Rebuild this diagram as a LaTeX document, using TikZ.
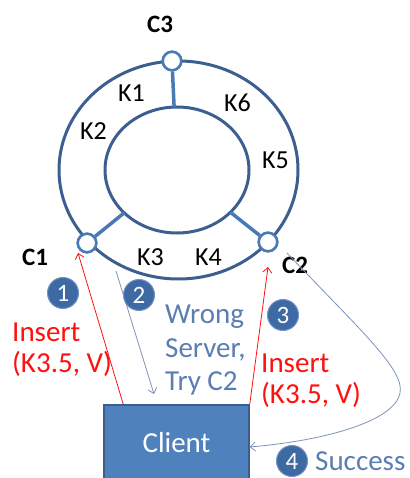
\documentclass[tikz,border=0pt]{standalone}
\usepackage{fontspec}
\setmainfont{Carlito}
\usetikzlibrary{arrows.meta,shapes.geometric}

\definecolor{ringblue}{HTML}{3D5F90}
\definecolor{spokeblue}{HTML}{4A7AB6}
\definecolor{clientblue}{HTML}{4F81BD}
\definecolor{clientedge}{HTML}{3A5F8E}
\definecolor{badgeblue}{HTML}{3E6AA4}
\definecolor{badgerim}{HTML}{7393C4}
\definecolor{msgblue}{HTML}{5B7DB3}
\definecolor{replyline}{HTML}{7D93B9}
\definecolor{insertred}{HTML}{FF1010}

\begin{document}
\begin{tikzpicture}[x=1pt,y=-1pt,
  txt/.style={anchor=base west, inner sep=0pt, font=\fontsize{26}{32}\selectfont},
  msg/.style={anchor=base west, inner sep=0pt, font=\fontsize{29}{34}\selectfont},
  server/.style={txt, font=\fontsize{25}{30}\selectfont\bfseries},
  keylbl/.style={txt, text=black},
  redtxt/.style={msg, text=insertred},
  bluetxt/.style={msg, text=msgblue},
  ring/.style={ellipse, draw=ringblue, line width=3pt, inner sep=0pt, outer sep=0pt},
  spoke/.style={draw=spokeblue, line width=3.5pt},
  cnode/.style={circle, draw=spokeblue, fill=white, line width=2.5pt, minimum size=18.5pt, inner sep=0pt},
  badge/.style={circle, fill=badgeblue, draw=badgerim, line width=1pt, minimum size=31pt, inner sep=0pt,
    text=white, font=\fontsize{25}{28}\selectfont},
  redarrow/.style={draw=insertred, line width=0.8pt, -{Straight Barb[length=5pt,width=9pt]}},
  bluearrow/.style={draw=replyline, line width=0.8pt, -{Straight Barb[length=5pt,width=9pt]}}
]
\useasboundingbox (0,0) rectangle (409,478);
\clip (0,0) rectangle (409,478);

% the ring: outer and inner boundary
\node[ring, minimum width=239pt, minimum height=218pt] (outer) at (178.5,170) {};
\node[ring, minimum width=144pt, minimum height=126pt] (inner) at (177,170) {};

% server nodes on the ring
\node[cnode] (c3) at (172,61) {};
\node[cnode] (c1) at (87,243) {};
\node[cnode] (c2) at (268,242) {};

% spokes from each server to the inner ring, servers redrawn on top
\draw[spoke] (c3) -- (inner);
\draw[spoke] (c1) -- (inner);
\draw[spoke] (c2) -- (inner);
\node[cnode] at (c3) {};
\node[cnode] at (c1) {};
\node[cnode] at (c2) {};

% server names
\node[server] (lc3) at (147,33) {C3};
\node[server] (lc1) at (22,265) {C1};
\node[server] (lc2) at (282,273) {C2};

% keys
\node[keylbl] (k1) at (118,102) {K1};
\node[keylbl] (k6) at (224,112) {K6};
\node[keylbl] (k2) at (80,140) {K2};
\node[keylbl] (k5) at (262,168) {K5};
\node[keylbl] (k3) at (137,265) {K3};
\node[keylbl] (k4) at (195,265) {K4};

% client
\node[rectangle, fill=clientblue, draw=clientedge, line width=1.5pt,
  minimum width=145pt, minimum height=84pt, text=white,
  font=\fontsize{29}{34}\selectfont, text height=15pt, text depth=5pt] (client) at (176.5,447) {Client};

% free ends of the messages
\coordinate (tip1) at (78,253);
\coordinate (s2) at (116,271);
\coordinate (e2) at (154,394);
\coordinate (tip3) at (268,267);
\coordinate (s4) at (287,253);

% messages
\draw[redarrow] ([xshift=20pt]client.north west) -- (tip1);
\draw[bluearrow] (s2) -- (e2);
\draw[redarrow] (client.north east) -- (tip3);
\draw[bluearrow] (s4) .. controls (360,330) and (405,370) .. (400,393)
  .. controls (395,420) and (330,440) .. (client.east);

% step badges
\node[badge] (b1) at (63,293) {1};
\node[badge] (b2) at (139,295) {2};
\node[badge] (b3) at (283,315) {3};
\node[badge] (b4) at (292,461) {4};

% message texts
\node[redtxt] (ins1) at (12,341) {Insert};
\node[redtxt] (arg1) at (12,372) {(K3.5, V)};
\node[bluetxt] (wr1) at (165,323) {Wrong};
\node[bluetxt] (wr2) at (165,357) {Server,};
\node[bluetxt] (wr3) at (165,390) {Try C2};
\node[redtxt] (ins3) at (261,372) {Insert};
\node[redtxt] (arg3) at (261,403) {(K3.5, V)};
\node[bluetxt] (ok4) at (315,470) {Success};
\end{tikzpicture}
\end{document}
